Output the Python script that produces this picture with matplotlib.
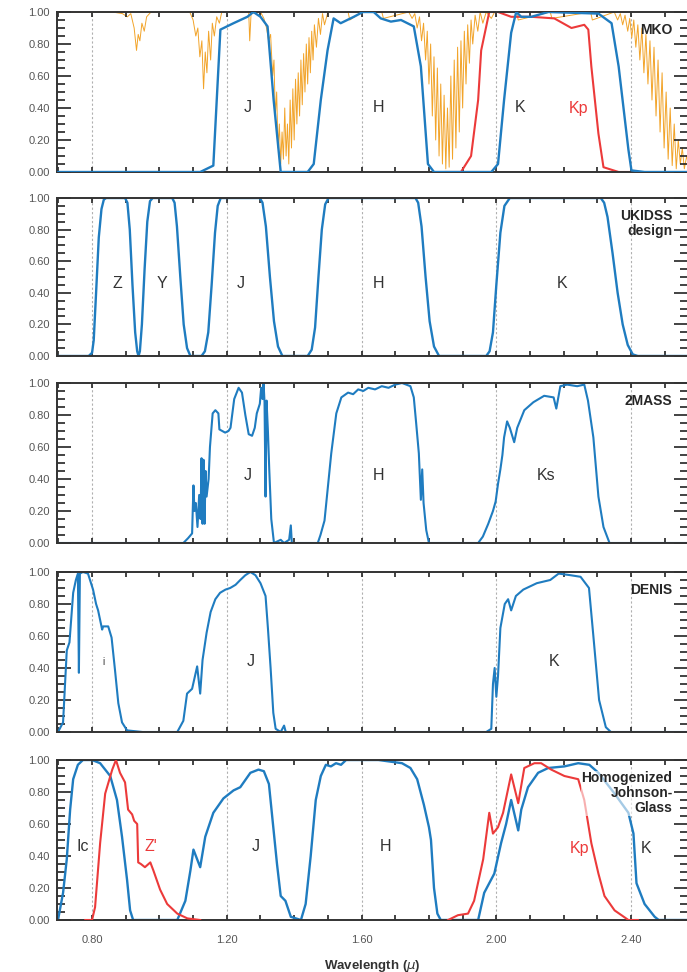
import numpy as np
import matplotlib
matplotlib.use('Agg')
import matplotlib.pyplot as plt
from matplotlib.ticker import MultipleLocator, FixedLocator

plt.rcParams['font.family'] = ['Liberation Sans', 'DejaVu Sans']

BLUE = '#1f7cc0'
RED = '#ec3a3a'
ORANGE = '#f2a42a'

# ---- MKO ----
mko_J_wl = [0.70, 1.121, 1.160, 1.181, 1.220, 1.261, 1.279, 1.300, 1.321, 1.339, 1.360, 1.440,
            1.458, 1.479, 1.499, 1.517, 1.538, 1.577, 1.604, 1.636, 1.657, 1.687, 1.717,
            1.755, 1.776, 1.797, 1.815, 1.985, 2.005, 2.023, 2.044, 2.059, 2.074, 2.104,
            2.154, 2.303, 2.342, 2.363, 2.392, 2.401, 2.440, 2.57]
mko_J_tr = [0.0, 0.0, 0.04, 0.89, 0.93, 0.97, 1.0, 0.97, 0.91, 0.45, 0.0, 0.0,
            0.05, 0.45, 0.76, 0.96, 0.93, 0.97, 1.0, 1.0, 0.96, 0.94, 0.95,
            0.91, 0.66, 0.05, 0.0, 0.0, 0.05, 0.45, 0.87, 1.0, 0.97, 0.97,
            1.0, 0.99, 0.93, 0.66, 0.14, 0.01, 0.0, 0.0]
mko_Kp_wl = [1.85, 1.895, 1.925, 1.946, 1.955, 1.970, 1.979, 2.005, 2.044, 2.104, 2.172,
             2.223, 2.261, 2.273, 2.282, 2.303, 2.318, 2.363, 2.41]
mko_Kp_tr = [0.0, 0.0, 0.10, 0.45, 0.76, 0.91, 1.0, 1.0, 0.97, 0.97, 0.96,
             0.90, 0.92, 0.89, 0.66, 0.24, 0.03, 0.0, 0.0]

# atmospheric transmission
atm_wl = [0.70, 0.86, 0.89, 0.905, 0.915, 0.925, 0.932, 0.937, 0.942, 0.948, 0.955, 0.962, 0.975,
          1.09, 1.100, 1.108, 1.114, 1.120, 1.126, 1.131, 1.136, 1.141, 1.146, 1.152, 1.157,
          1.163, 1.170, 1.178, 1.185, 1.265, 1.268, 1.272, 1.30, 1.31, 1.318, 1.324, 1.330,
          1.336, 1.340, 1.344, 1.348, 1.352, 1.356, 1.360, 1.364, 1.368, 1.372, 1.376, 1.380,
          1.384, 1.388, 1.392, 1.396, 1.400, 1.404, 1.408, 1.412, 1.416, 1.420, 1.424, 1.428,
          1.432, 1.436, 1.440, 1.444, 1.448, 1.452, 1.456, 1.460, 1.466, 1.472, 1.478, 1.484,
          1.490, 1.50, 1.56, 1.565, 1.60, 1.66, 1.665, 1.74, 1.75, 1.758, 1.765, 1.772, 1.778,
          1.784, 1.790, 1.795, 1.800, 1.805, 1.810, 1.815, 1.820, 1.825, 1.830, 1.835, 1.840,
          1.845, 1.850, 1.855, 1.860, 1.865, 1.870, 1.875, 1.880, 1.885, 1.890, 1.895, 1.900,
          1.905, 1.910, 1.915, 1.920, 1.925, 1.930, 1.937, 1.945, 1.952, 1.960, 1.970, 1.985,
          1.995, 2.06, 2.065, 2.16, 2.165, 2.28, 2.285, 2.35, 2.36, 2.368, 2.375, 2.382, 2.390,
          2.396, 2.402, 2.408, 2.414, 2.420, 2.426, 2.432, 2.438, 2.444, 2.450, 2.456, 2.462,
          2.468, 2.474, 2.480, 2.486, 2.492, 2.498, 2.504, 2.510, 2.516, 2.522, 2.528, 2.534,
          2.540, 2.546, 2.552, 2.558, 2.565, 2.57]
atm_tr = [1.00, 1.00, 0.99, 0.97, 0.99, 0.90, 0.76, 0.86, 0.82, 0.93, 0.88, 0.97, 1.00,
          1.00, 0.95, 0.85, 0.90, 0.72, 0.82, 0.52, 0.75, 0.62, 0.88, 0.70, 0.93,
          0.85, 0.97, 0.93, 1.00, 1.00, 0.82, 0.99, 1.00, 0.96, 0.90, 0.82, 0.86,
          0.60, 0.70, 0.35, 0.50, 0.15, 0.30, 0.05, 0.25, 0.08, 0.40, 0.10, 0.30,
          0.05, 0.45, 0.15, 0.52, 0.20, 0.58, 0.30, 0.62, 0.35, 0.70, 0.42, 0.74,
          0.50, 0.80, 0.55, 0.84, 0.62, 0.88, 0.70, 0.92, 0.78, 0.96, 0.86, 0.99,
          0.92, 1.00, 1.00, 0.95, 1.00, 1.00, 0.96, 1.00, 0.96, 0.99, 0.90, 0.97, 0.82,
          0.93, 0.70, 0.88, 0.55, 0.80, 0.35, 0.72, 0.20, 0.65, 0.10, 0.55, 0.05,
          0.48, 0.02, 0.40, 0.03, 0.60, 0.08, 0.70, 0.15, 0.78, 0.25, 0.82, 0.40,
          0.88, 0.55, 0.92, 0.68, 0.95, 0.80, 0.98, 0.88, 1.00, 0.93, 1.00, 0.96,
          1.00, 1.00, 0.95, 1.00, 0.96, 1.00, 0.95, 1.00, 0.95, 0.99, 0.92, 0.98, 0.88,
          0.96, 0.84, 0.95, 0.78, 0.92, 0.70, 0.90, 0.62, 0.86, 0.55, 0.82, 0.45,
          0.78, 0.35, 0.70, 0.25, 0.62, 0.15, 0.50, 0.08, 0.40, 0.04, 0.30, 0.02,
          0.20, 0.05, 0.15, 0.02, 0.10, 0.05]

# ---- UKIDSS ----
uk_wl = [0.70, 0.79, 0.80, 0.805, 0.812, 0.82, 0.828, 0.835, 0.842, 0.898, 0.905, 0.912,
         0.920, 0.928, 0.934, 0.938, 0.942, 0.948, 0.956, 0.964, 0.972, 0.98, 1.038,
         1.045, 1.052, 1.062, 1.072, 1.082, 1.092, 1.125, 1.135, 1.145, 1.155, 1.165,
         1.173, 1.182, 1.298, 1.306, 1.316, 1.328, 1.340, 1.352, 1.365, 1.44, 1.452,
         1.462, 1.472, 1.482, 1.492, 1.502, 1.76, 1.768, 1.778, 1.79, 1.802, 1.815,
         1.83, 1.97, 1.98, 1.99, 2.0, 2.012, 2.024, 2.04, 2.31, 2.32, 2.33, 2.345,
         2.36, 2.375, 2.39, 2.405, 2.42, 2.57]
uk_tr = [0.0, 0.0, 0.02, 0.10, 0.40, 0.75, 0.93, 0.99, 1.0, 1.0, 0.97, 0.80,
         0.45, 0.15, 0.03, 0.0, 0.03, 0.20, 0.55, 0.85, 0.98, 1.0, 1.0,
         0.97, 0.82, 0.50, 0.20, 0.05, 0.0, 0.0, 0.03, 0.15, 0.45, 0.78,
         0.95, 1.0, 1.0, 0.97, 0.82, 0.50, 0.22, 0.06, 0.0, 0.0, 0.04,
         0.18, 0.50, 0.80, 0.96, 1.0, 1.0, 0.97, 0.82, 0.50, 0.22, 0.06,
         0.0, 0.0, 0.03, 0.15, 0.45, 0.78, 0.95, 1.0, 1.0, 0.97, 0.88, 0.65,
         0.40, 0.20, 0.07, 0.01, 0.0, 0.0]

# ---- 2MASS ----
tm_wl = [0.70, 1.06, 1.071, 1.085, 1.097, 1.101, 1.104, 1.108, 1.113, 1.118, 1.122, 1.125,
         1.128, 1.131, 1.134, 1.137, 1.140, 1.146, 1.150, 1.158, 1.166, 1.175, 1.178,
         1.195, 1.205, 1.211, 1.222, 1.235, 1.245, 1.255, 1.265, 1.275, 1.283, 1.289,
         1.298, 1.302, 1.306, 1.309, 1.312, 1.315, 1.318, 1.322, 1.326, 1.332, 1.340,
         1.36, 1.37, 1.385, 1.39, 1.393, 1.47, 1.478, 1.49, 1.50, 1.51, 1.525, 1.54,
         1.56, 1.575, 1.59, 1.605, 1.62, 1.64, 1.66, 1.68, 1.70, 1.72, 1.745, 1.755,
         1.762, 1.770, 1.776, 1.780, 1.784, 1.792, 1.80, 1.946, 1.96, 1.976, 1.99,
         1.998, 2.005, 2.012, 2.018, 2.023, 2.032, 2.040, 2.053, 2.062, 2.083, 2.11,
         2.142, 2.17, 2.178, 2.19, 2.21, 2.24, 2.261, 2.272, 2.288, 2.303, 2.318,
         2.336, 2.57]
tm_tr = [0.0, 0.0, 0.0, 0.03, 0.06, 0.36, 0.20, 0.25, 0.10, 0.30, 0.15, 0.53,
         0.12, 0.52, 0.12, 0.45, 0.29, 0.40, 0.60, 0.81, 0.83, 0.81, 0.71,
         0.69, 0.70, 0.72, 0.90, 0.97, 0.94, 0.80, 0.68, 0.67, 0.72, 0.81,
         0.87, 0.97, 0.90, 1.0, 0.88, 0.29, 0.89, 0.70, 0.46, 0.15, 0.0,
         0.02, 0.0, 0.02, 0.11, 0.0, 0.0, 0.05, 0.14, 0.35, 0.56, 0.81, 0.91,
         0.94, 0.93, 0.96, 0.95, 0.97, 0.96, 0.98, 0.97, 0.99, 1.0, 0.98, 0.91,
         0.75, 0.56, 0.27, 0.46, 0.25, 0.08, 0.0, 0.0, 0.04, 0.12, 0.20,
         0.26, 0.37, 0.46, 0.55, 0.66, 0.76, 0.72, 0.63, 0.72, 0.83, 0.88,
         0.92, 0.91, 0.84, 0.98, 0.99, 0.98, 0.99, 0.89, 0.66, 0.29, 0.10,
         0.0, 0.0]

# ---- DENIS ----
de_wl = [0.699, 0.714, 0.725, 0.733, 0.744, 0.752, 0.758, 0.761, 0.764, 0.773, 0.788, 0.803,
         0.812, 0.818, 0.824, 0.830, 0.833, 0.848, 0.858, 0.868, 0.878, 0.889, 0.904,
         0.95, 1.053, 1.071, 1.082, 1.097, 1.112, 1.121, 1.128, 1.14, 1.152, 1.166,
         1.18, 1.196, 1.21, 1.226, 1.24, 1.255, 1.27, 1.285, 1.30, 1.315, 1.322, 1.330,
         1.338, 1.345, 1.36, 1.37, 1.375, 1.97, 1.985, 1.99, 1.995, 2.0, 2.005, 2.012,
         2.025, 2.035, 2.044, 2.058, 2.08, 2.12, 2.16, 2.185, 2.22, 2.25, 2.275, 2.288,
         2.305, 2.325, 2.34, 2.57]
de_tr = [0.0, 0.06, 0.51, 0.56, 0.87, 0.95, 0.99, 0.37, 0.99, 1.0, 0.99, 0.89,
         0.80, 0.76, 0.70, 0.64, 0.66, 0.66, 0.59, 0.39, 0.18, 0.06, 0.01,
         0.0, 0.0, 0.07, 0.24, 0.27, 0.41, 0.24, 0.45, 0.62, 0.75, 0.83,
         0.87, 0.89, 0.90, 0.92, 0.95, 0.98, 1.0, 0.98, 0.93, 0.85, 0.65, 0.40,
         0.12, 0.02, 0.0, 0.04, 0.0, 0.0, 0.02, 0.30, 0.40, 0.22, 0.35, 0.65,
         0.80, 0.83, 0.76, 0.85, 0.89, 0.93, 0.95, 0.99, 0.98, 0.97, 0.90, 0.60,
         0.20, 0.03, 0.0, 0.0]

# ---- Homogenized Johnson-Glass ----
hj_blue_wl = [0.699, 0.714, 0.725, 0.735, 0.744, 0.758, 0.773, 0.80, 0.824, 0.854, 0.874,
              0.889, 0.904, 0.913, 0.922, 1.053, 1.077, 1.092, 1.101, 1.121, 1.136, 1.16,
              1.19, 1.22, 1.24, 1.27, 1.294, 1.31, 1.325, 1.337, 1.349, 1.36, 1.374, 1.39,
              1.42, 1.434, 1.449, 1.464, 1.479, 1.494, 1.509, 1.524, 1.539, 1.554, 1.65,
              1.72, 1.745, 1.765, 1.785, 1.80, 1.806, 1.815, 1.825, 1.835, 1.946, 1.964,
              1.994, 2.014, 2.029, 2.044, 2.065, 2.074, 2.094, 2.124, 2.154, 2.202, 2.243,
              2.276, 2.303, 2.351, 2.392, 2.407, 2.416, 2.44, 2.47, 2.482, 2.57]
hj_blue_tr = [0.0, 0.17, 0.38, 0.69, 0.88, 0.97, 1.0, 1.0, 0.98, 0.90, 0.75,
              0.52, 0.25, 0.06, 0.0, 0.0, 0.12, 0.31, 0.44, 0.33, 0.52, 0.67,
              0.76, 0.81, 0.83, 0.92, 0.94, 0.93, 0.85, 0.60, 0.35, 0.15, 0.12, 0.02,
              0.0, 0.10, 0.40, 0.75, 0.90, 0.97, 0.96, 0.98, 0.97, 1.0, 1.0,
              0.98, 0.95, 0.88, 0.72, 0.58, 0.50, 0.20, 0.04, 0.0, 0.0, 0.17,
              0.29, 0.48, 0.60, 0.75, 0.56, 0.69, 0.83, 0.92, 0.95, 0.96, 0.98,
              0.97, 0.92, 0.79, 0.67, 0.54, 0.23, 0.10, 0.02, 0.0, 0.0]
hj_red_wl = [0.78, 0.80, 0.809, 0.824, 0.839, 0.86, 0.871, 0.883, 0.898, 0.907, 0.919,
             0.925, 0.934, 0.937, 0.945, 0.957, 0.973, 0.982, 1.002, 1.023, 1.053, 1.083,
             1.121, 1.857, 1.886, 1.916, 1.934, 1.961, 1.979, 1.99, 2.005, 2.02, 2.044,
             2.065, 2.083, 2.113, 2.133, 2.163, 2.202, 2.243, 2.261, 2.282, 2.303, 2.321,
             2.351, 2.392, 2.42]
hj_red_tr = [0.0, 0.0, 0.08, 0.48, 0.79, 0.94, 1.0, 0.92, 0.86, 0.69, 0.66,
             0.62, 0.60, 0.36, 0.35, 0.33, 0.36, 0.31, 0.19, 0.10, 0.04, 0.01,
             0.0, 0.0, 0.03, 0.04, 0.12, 0.38, 0.67, 0.54, 0.58, 0.67, 0.91,
             0.73, 0.95, 0.98, 0.98, 0.94, 0.90, 0.88, 0.75, 0.48, 0.29, 0.15,
             0.06, 0.0, 0.0]
hj_red_gap = 23  # Z' and Kp are separate curves

# band labels: (text, wavelength, height, colour)
mko_labels = [('J', 1.261, 0.40, '#333333'), ('H', 1.651, 0.40, '#333333'),
              ('K', 2.071, 0.40, '#333333'), ('Kp', 2.243, 0.40, RED)]
uk_labels = [('Z', 0.874, 0.46, '#333333'), ('Y', 1.008, 0.46, '#333333'),
             ('J', 1.240, 0.46, '#333333'), ('H', 1.651, 0.46, '#333333'),
             ('K', 2.196, 0.46, '#333333')]
tm_labels = [('J', 1.261, 0.42, '#333333'), ('H', 1.651, 0.42, '#333333'),
             ('Ks', 2.148, 0.42, '#333333')]
de_labels = [('J', 1.270, 0.44, '#333333'), ('K', 2.170, 0.44, '#333333')]
hj_labels = [('Ic', 0.773, 0.46, '#333333'), ("Z'", 0.976, 0.46, RED),
             ('J', 1.285, 0.46, '#333333'), ('H', 1.672, 0.46, '#333333'),
             ('Kp', 2.246, 0.45, RED), ('K', 2.443, 0.45, '#333333')]

W, H = 687, 972
panel_px = [(12, 172), (198, 356), (383, 543), (572, 732), (760, 920)]
left_px = 57

fig = plt.figure(figsize=(W / 100, H / 100), dpi=100)
axes = []
for top, bot in panel_px:
    ax = fig.add_axes([left_px / W, 1 - bot / H, 1 - left_px / W + 0.002, (bot - top) / H])
    axes.append(ax)


def style(ax, bottom_labels=False):
    ax.set_xlim(0.696, 2.57)
    ax.set_ylim(0, 1)
    for x in [0.8, 1.2, 1.6, 2.0, 2.4]:
        ax.axvline(x, color='#b0b0b0', ls=(0, (2, 2)), lw=0.8, zorder=0)
    ax.xaxis.set_major_locator(FixedLocator([0.8, 1.2, 1.6, 2.0, 2.4]))
    ax.xaxis.set_minor_locator(MultipleLocator(0.1))
    ax.yaxis.set_major_locator(MultipleLocator(0.2))
    ax.yaxis.set_minor_locator(MultipleLocator(0.05))
    ax.tick_params(axis='both', which='both', direction='in', top=True, right=True,
                   color='#222222', width=1.2, labelcolor='#555555', labelsize=8)
    ax.tick_params(axis='x', which='both', length=3.5)
    ax.tick_params(axis='y', which='major', length=10, pad=5)
    ax.tick_params(axis='y', which='minor', length=5.5)
    ax.yaxis.set_major_formatter(plt.FormatStrFormatter('%.2f'))
    if bottom_labels:
        ax.xaxis.set_major_formatter(plt.FormatStrFormatter('%.2f'))
        ax.tick_params(axis='x', pad=11)
    else:
        ax.set_xticklabels([])
    for s in ax.spines.values():
        s.set_color('#333333')
        s.set_linewidth(1.4)


def band_labels(ax, labels, size=11.5):
    for txt, x, y, c in labels:
        ax.text(x, y, txt, color=c, fontsize=size, ha='center', va='center')


def panel_name(ax, txt, y):
    ax.text(0.975, y, txt, transform=ax.transAxes, ha='right', va='top',
            fontsize=10, fontweight='bold', color='#262626', linespacing=1.05)


# MKO
ax = axes[0]
style(ax)
ax.plot(atm_wl, atm_tr, color=ORANGE, lw=0.7, zorder=1)
ax.plot(mko_J_wl, mko_J_tr, color=BLUE, lw=1.7, zorder=3)
ax.plot(mko_Kp_wl, mko_Kp_tr, color=RED, lw=1.5, zorder=2)
band_labels(ax, mko_labels)
panel_name(ax, 'MKO', 0.93)

# UKIDSS
ax = axes[1]
style(ax)
ax.plot(uk_wl, uk_tr, color=BLUE, lw=1.7)
band_labels(ax, uk_labels)
panel_name(ax, 'UKIDSS\ndesign', 0.93)

# 2MASS
ax = axes[2]
style(ax)
ax.plot(tm_wl, tm_tr, color=BLUE, lw=1.5)
band_labels(ax, tm_labels)
panel_name(ax, '2MASS', 0.93)

# DENIS
ax = axes[3]
style(ax)
ax.plot(de_wl, de_tr, color=BLUE, lw=1.5)
band_labels(ax, de_labels)
ax.text(0.833, 0.44, 'i', color='#333333', fontsize=7, ha='center', va='center')
panel_name(ax, 'DENIS', 0.93)

# Homogenized Johnson-Glass
ax = axes[4]
style(ax, bottom_labels=True)
ax.plot(hj_blue_wl, hj_blue_tr, color=BLUE, lw=1.7, zorder=2)
ax.plot(hj_red_wl[:hj_red_gap], hj_red_tr[:hj_red_gap], color=RED, lw=1.5, zorder=3)
ax.plot(hj_red_wl[hj_red_gap:], hj_red_tr[hj_red_gap:], color=RED, lw=1.5, zorder=3)
band_labels(ax, hj_labels)
ax.text(0.975, 0.93, 'Homogenized\nJohnson-\nGlass', transform=ax.transAxes, ha='right',
        va='top', fontsize=10, fontweight='bold', color='#262626', linespacing=1.1,
        zorder=5, bbox=dict(facecolor='white', edgecolor='none', alpha=0.6, pad=0.5))
ax.set_xlabel('Wavelength ($\\mu$)', fontsize=9.5, fontweight='bold', color='#333333',
              labelpad=9)

fig.savefig('out.png', dpi=100)
